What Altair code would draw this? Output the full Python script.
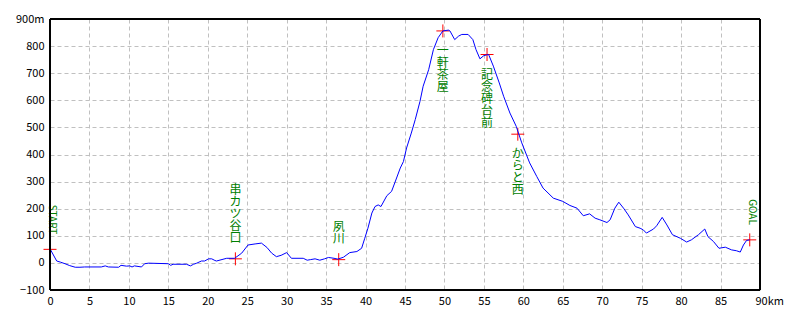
import altair as alt
import pandas as pd

# elevation profile (distance km, elevation m)
km = [0, 0.85, 1.3, 1.9, 2.5, 3.2, 3.8, 4.4, 6.5, 7.0, 7.4, 8.7, 9.0, 9.7, 10.1, 10.4, 10.7,
      11.6, 12.0, 12.5, 15.0, 15.3, 15.6, 17.3, 17.8, 18.2, 18.6, 19.2, 19.6, 20.1, 20.5, 20.9,
      21.1, 22.4, 23.4, 24.3, 25.1, 26.0, 26.8, 27.5, 28.1, 28.7, 29.3, 30.0, 30.6, 32.1, 32.6,
      33.0, 33.6, 34.2, 34.8, 35.3, 36.0, 36.5, 37.2, 38.0, 38.9, 39.5, 39.9, 40.3, 40.8, 41.2,
      41.6, 41.95, 42.7, 43.3, 43.7, 44.4, 44.8, 45.2, 45.8, 46.3, 46.9, 47.3, 48.0, 48.6, 49.2,
      49.8, 50.5, 50.7, 51.3, 51.8, 52.2, 53.0, 53.6, 54.0, 54.5, 55.0, 55.6, 56.2, 56.95, 57.5,
      58.3, 59.1, 59.8, 60.8, 61.7, 62.5, 63.8, 65.0, 65.9, 66.8, 67.6, 68.4, 69.1, 69.7, 70.6,
      71.0, 71.6, 72.1, 72.7, 73.3, 74.2, 74.8, 75.2, 75.6, 76.5, 76.9, 77.6, 78.2, 78.9, 79.9,
      80.7, 81.3, 82.2, 83.0, 83.4, 84.1, 84.8, 85.6, 86.4, 87.0, 87.5, 87.9, 88.3, 88.7]
elev = [52, 7, 3, -3, -10, -16, -16, -15, -15, -11, -15, -16, -9, -12, -11, -15, -11,
        -15, -3, -1, -3, -9, -5, -5, -11, -5, -1, 7, 7, 15, 15, 9,
        7, 17, 17, 36, 66, 70, 73, 57, 36, 23, 28, 38, 17, 17, 10,
        12, 15, 10, 15, 20, 17, 14, 21, 38, 42, 54, 91, 128, 184, 208,
        214, 208, 248, 264, 295, 350, 374, 424, 479, 529, 596, 652, 713, 787, 831,
        856, 859, 856, 824, 837, 843, 843, 824, 787, 753, 765, 769, 726, 664, 615,
        553, 504, 443, 369, 319, 276, 239, 227, 212, 202, 174, 181, 165, 159, 149,
        159, 202, 224, 202, 177, 134, 128, 122, 110, 125, 137, 168, 140, 104, 91,
        77, 85, 104, 125, 97, 79, 54, 58, 48, 45, 40, 66, 83, 85]

# waypoints
mk_name = ["START", "串カツ谷口", "夙川", "一軒茶屋", "記念碑台前", "からと西", "GOAL"]
mk_km = [0, 23.5, 36.6, 49.8, 55.4, 59.3, 88.7]
mk_elev = [50, 15, 12, 856, 769, 475, 85]

x_ticks = list(range(0, 91, 5))
y_ticks = list(range(-100, 901, 100))

prof = pd.DataFrame({"km": km, "m": elev})
wp = pd.DataFrame({"name": mk_name, "km": mk_km, "m": mk_elev})

FONT = "Noto Sans CJK JP"
GREEN = "#008000"
LH = 12

xs = alt.Scale(domain=[0, 90], nice=False, zero=False)
ys = alt.Scale(domain=[-100, 900], nice=False, zero=False)

x_axis = alt.Axis(
    values=x_ticks, grid=True, gridColor="#c0c0c0", gridDash=[4, 3], gridWidth=1,
    domain=False, ticks=False, labelPadding=5, labelFlush=False, labelOverlap=False,
    labelFont=FONT, labelFontSize=11, labelColor="black", title=None,
    labelExpr="datum.value == 90 ? '90km' : datum.label",
    labelAlign={"condition": {"test": "datum.value == 90", "value": "left"}, "value": "center"},
    labelOffset={"condition": {"test": "datum.value == 90", "value": -5}, "value": 0},
)
y_axis = alt.Axis(
    values=y_ticks, grid=True, gridColor="#c0c0c0", gridDash=[4, 3], gridWidth=1,
    domain=False, ticks=False, labelPadding=6, labelFlush=False, labelOverlap=False,
    labelFont=FONT, labelFontSize=11, labelColor="black", title=None,
    labelExpr="datum.value == 900 ? '900m' : datum.label",
)

X = alt.X("km:Q", scale=xs, axis=x_axis)
Y = alt.Y("m:Q", scale=ys, axis=y_axis)

crosses = alt.Chart(wp).mark_point(
    shape="M-1,0L1,0M0,-1L0,1", size=169, filled=False, stroke="#ff0000", strokeWidth=1, opacity=1
).encode(x=X, y=Y)

line = alt.Chart(prof).mark_line(color="#0000ff", strokeWidth=1).encode(x=X, y=Y)

layers = [crosses, line]
for i, name in enumerate(mk_name):
    sub = wp.iloc[[i]]
    if name.isascii():
        t = alt.Chart(sub).mark_text(
            angle=90, align="right", baseline="middle", dx=-15, dy=-2,
            color=GREEN, font=FONT, fontSize=10
        ).encode(x=X, y=Y, text="name:N")
    else:
        n = len(name)
        vert = "\n".join(name)
        if mk_elev[i] < 100:
            t = alt.Chart(sub).mark_text(
                align="center", baseline="bottom", lineBreak="\n", lineHeight=LH,
                dy=-14 - (n - 1) * LH, color=GREEN, font=FONT, fontSize=12
            ).encode(x=X, y=Y, text=alt.value(vert))
        else:
            t = alt.Chart(sub).mark_text(
                align="center", baseline="top", lineBreak="\n", lineHeight=LH,
                dy=15, color=GREEN, font=FONT, fontSize=12
            ).encode(x=X, y=Y, text=alt.value(vert))
    layers.append(t)

frame = alt.Chart(wp).mark_rect(fill=None, stroke="black", strokeWidth=1).encode(
    x=alt.value(0), x2=alt.value(710), y=alt.value(0), y2=alt.value(271)
)
layers.append(frame)

chart = alt.layer(*layers).properties(
    width=710, height=271,
    autosize=alt.AutoSizeParams(type="none"),
    padding={"left": 50, "top": 19, "right": 40, "bottom": 30},
    background="white",
).configure_view(stroke=None)

chart.save("out.html", embed_options={"renderer": "svg", "actions": False})
